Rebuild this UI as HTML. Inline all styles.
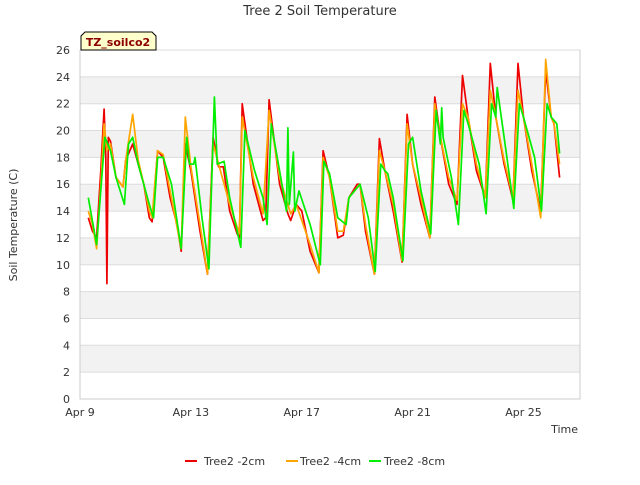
<!DOCTYPE html>
<html><head><meta charset="utf-8"><style>
body{margin:0;background:#fff;font-family:"Liberation Sans",sans-serif}
svg text{font-family:"DejaVu Sans","Liberation Sans",sans-serif}
</style></head><body>
<svg id="c" width="640" height="480" xmlns="http://www.w3.org/2000/svg">
<text x="320" y="15" text-anchor="middle" font-size="13" fill="#333">Tree 2 Soil Temperature</text>
<text transform="translate(17,225) rotate(-90)" text-anchor="middle" font-size="11" fill="#333">Soil Temperature (C)</text>
<text x="578" y="433" text-anchor="end" font-size="11" fill="#333">Time</text>
<g id="grid"></g>
<g id="series"></g>
<g>
<path d="M81,50 L81,36 L85,32 L152,32 L156,36 L156,50 Z" fill="#ffffcc" stroke="#000" stroke-width="1"/>
<text x="118" y="46" text-anchor="middle" font-size="11" font-weight="bold" fill="#8b0000">TZ_soilco2</text>
</g>
<g>
<g><line x1="185" y1="461" x2="197" y2="461" stroke="#ee0000" stroke-width="2"/><text x="204" y="465" font-size="11" fill="#333">Tree2 -2cm</text></g>
<g><line x1="286" y1="461" x2="298" y2="461" stroke="#ffa500" stroke-width="2"/><text x="300" y="465" font-size="11" fill="#333">Tree2 -4cm</text></g>
<g><line x1="369" y1="461" x2="381" y2="461" stroke="#00ee00" stroke-width="2"/><text x="384" y="465" font-size="11" fill="#333">Tree2 -8cm</text></g>
</g>
</svg>
<script>
const yTicks=[0,2,4,6,8,10,12,14,16,18,20,22,24,26];
const xTickDays=[0,4,8,12,16];
const xTickLabels=["Apr 9","Apr 13","Apr 17","Apr 21","Apr 25"];
const t2=[0.3,0.45,0.6,0.75,0.87,0.93,0.97,1.02,1.1,1.3,1.55,1.65,1.9,2.1,2.3,2.5,2.6,2.8,3.0,3.25,3.5,3.65,3.8,4.0,4.33,4.6,4.8,5.0,5.17,5.4,5.67,5.75,5.85,6.25,6.6,6.7,6.82,7.2,7.5,7.6,7.8,8.0,8.3,8.62,8.77,9.0,9.3,9.5,9.7,10.0,10.1,10.3,10.62,10.8,11.0,11.3,11.62,11.8,12.0,12.3,12.62,12.8,13.0,13.3,13.6,13.8,14.0,14.3,14.62,14.8,15.0,15.3,15.62,15.8,16.0,16.3,16.62,16.8,17.0,17.1,17.3];
const v2=[13.5,12.5,12,17,21.6,18,8.6,19.5,19.2,16.5,15.8,17.8,19,17.5,16,13.5,13.2,18.5,18,15,13,11,19,17,12.5,9.3,19.5,17.3,17.3,14,12.3,12,22,16,13.3,13.5,22.3,16,13.8,13.3,14.5,14,11,9.4,18.5,16.5,12,12.2,15,16,16,12.5,9.3,19.4,17,14,10.2,21.2,17.5,14.5,12,22.5,19.5,16,14.5,24.1,21,17,15,25,21,17.5,14.8,25,21,17,14,24.5,21,20.5,16.5];
const t4=[0.3,0.45,0.6,0.75,0.87,0.97,1.1,1.3,1.55,1.65,1.9,2.1,2.3,2.5,2.6,2.8,3.0,3.25,3.65,3.8,4.0,4.33,4.6,4.8,5.0,5.4,5.75,5.85,6.25,6.6,6.82,7.2,7.6,7.8,8.3,8.62,8.77,9.0,9.3,9.5,9.7,10.1,10.3,10.62,10.8,11.0,11.3,11.62,11.8,12.0,12.3,12.62,12.8,13.0,13.3,13.6,13.8,14.0,14.3,14.62,14.8,15.0,15.3,15.62,15.8,16.0,16.3,16.62,16.8,17.0,17.1,17.3];
const v4=[14,13,11.2,16,20.5,18.5,19,16.5,15.8,17.8,21.2,17.8,16,14,13.5,18.5,18.2,15.5,11.2,21,17.3,13,9.3,19,17.5,14.5,12.3,21,16.5,13.8,21.5,16.5,13.8,14.5,11.5,9.4,18,16.5,12.5,12.5,15,16,13,9.3,18.5,17,14.5,10.3,20.5,17.5,15,12,22,19.5,16.5,14.8,22,21,17.5,15,23,21,17.8,15,23,21,17.5,13.5,25.3,21,20.5,17.5];
const t8=[0.3,0.6,0.9,1.0,1.1,1.3,1.6,1.75,1.9,2.1,2.5,2.65,2.8,3.0,3.3,3.65,3.85,3.95,4.1,4.15,4.4,4.65,4.8,4.85,4.95,5.2,5.4,5.8,5.95,6.3,6.6,6.75,6.9,7.2,7.45,7.5,7.55,7.7,7.75,7.9,8.3,8.67,8.8,9.0,9.3,9.6,9.7,10.1,10.4,10.65,10.85,11.0,11.1,11.3,11.65,11.85,12.0,12.3,12.65,12.85,13.0,13.05,13.1,13.4,13.65,13.85,14.0,14.4,14.65,14.85,15.0,15.05,15.4,15.65,15.85,16.0,16.4,16.65,16.85,17.0,17.2,17.3];
const v8=[15,11.5,19.5,19,18.5,16.5,14.5,19,19.5,17.5,14.5,13.5,18,18,16,11.2,19.5,17.5,17.5,18,13.5,9.7,19.5,22.5,17.5,17.7,15,11.3,20,17,15,13,20.5,17,14,20.2,14.5,18.4,14,15.5,13,10,17.7,16.8,13.5,13,15,16,13.5,9.5,17.5,17,16.8,15,10.3,19,19.5,15.5,12.3,21.5,19,21.7,19.5,16.5,13,21.5,20.5,17.5,13.8,22,21,23.2,18,14.2,22,21,18,14,22,21,20.5,18.3];
const NS="http://www.w3.org/2000/svg";
const X0=80,X1=580,Y0=399,Y1=50;
const xs=d=>X0+d*27.72;
const ys=v=>Y0-(v/26)*(Y0-Y1);
const grid=document.getElementById('grid');
function mk(tag,attrs,parent){const e=document.createElementNS(NS,tag);for(const k in attrs)e.setAttribute(k,attrs[k]);parent.appendChild(e);return e;}
for(let i=0;i<yTicks.length-1;i++){
  if(i%2===1){const r=mk('rect',{x:X0,y:ys(yTicks[i+1]),width:X1-X0,height:ys(yTicks[i])-ys(yTicks[i+1]),fill:'#f2f2f2'},grid);
  
  }
}
yTicks.forEach(v=>{
  const l=mk('line',{x1:X0,x2:X1,y1:ys(v),y2:ys(v),stroke:'#dcdcdc','stroke-width':1},grid);
  
  
  const t=mk('text',{x:X0-10,y:ys(v)+4,'text-anchor':'end','font-size':11,fill:'#333'},grid);
  t.textContent=v;
  
  
});
xTickDays.forEach((d,i)=>{
  const t=mk('text',{x:xs(d),y:416,'text-anchor':'middle','font-size':11,fill:'#333'},grid);
  t.textContent=xTickLabels[i];
  
  
});
const ax=mk('path',{d:`M${X0},${Y1} L${X0},${Y0} L${X1},${Y0} L${X1},${Y1}`,fill:'none',stroke:'#ccc'},grid);


const sg=document.getElementById('series');
function line(ts,vs,color,name){
  const p=mk('polyline',{points:ts.map((t,i)=>xs(t).toFixed(1)+','+ys(vs[i]).toFixed(1)).join(' '),fill:'none',stroke:color,'stroke-width':1.7,'stroke-linejoin':'round'},sg);
  
  
}
line(t2,v2,'#ee0000','series-2cm');
line(t4,v4,'#ffa500','series-4cm');
line(t8,v8,'#00ee00','series-8cm');
</script>
</body></html>
